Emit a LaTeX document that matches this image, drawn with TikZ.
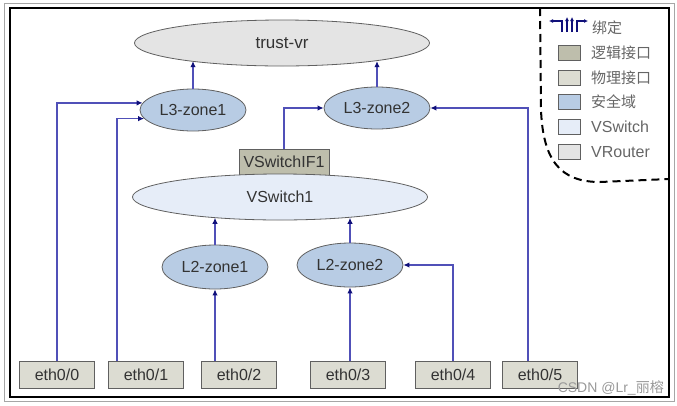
\documentclass[tikz,border=0pt]{standalone}
\usepackage{fontspec}
\setmainfont{Liberation Sans}
\newfontfamily\cjk{Noto Sans CJK SC}
\usetikzlibrary{shapes.geometric,arrows.meta}
\definecolor{linkc}{HTML}{5050B8}
\definecolor{tipc}{HTML}{10107A}
\definecolor{textc}{HTML}{333333}
\definecolor{vrc}{HTML}{E4E4E4}
\definecolor{vswc}{HTML}{E6EDF8}
\definecolor{zonec}{HTML}{B8CCE4}
\definecolor{logc}{HTML}{BEBEAC}
\definecolor{phyc}{HTML}{DCDCD2}
\definecolor{bordc}{HTML}{606060}
\definecolor{legc}{HTML}{666666}
\begin{document}
\begin{tikzpicture}[x=1pt,y=-1pt,
  every node/.style={text=textc, font=\fontsize{16}{18}\selectfont},
  bigell/.style={ellipse, draw=bordc, line width=0.8pt, minimum width=295pt, minimum height=46pt, inner sep=0pt},
  zone/.style={ellipse, draw=bordc, line width=0.8pt, fill=zonec, minimum width=106pt, minimum height=42pt, inner sep=0pt},
  ethbox/.style={rectangle, draw=bordc, line width=1pt, fill=phyc, minimum width=75pt, minimum height=27pt, inner sep=0pt},
  ifbox/.style={rectangle, draw=bordc, line width=1pt, fill=logc, minimum width=90pt, minimum height=26pt, inner sep=0pt},
  legbox/.style={rectangle, draw=bordc, line width=0.8pt, minimum width=22pt, minimum height=15pt, inner sep=0pt},
  legtext/.style={anchor=west, text=legc, inner sep=0pt},
  link/.style={draw=linkc, line width=1.2pt, -{Latex[length=6pt,width=5.5pt,color=tipc]}},
  bindarrow/.style={draw=tipc, line width=1.1pt, -{Latex[length=4pt,width=4pt]}}
]
\useasboundingbox (0,0) rectangle (677,405);
% frames
\draw[gray!70, line width=0.8pt] (4,3) rectangle (674,401);
\draw[black, line width=2pt] (10,8) rectangle (669,397);

% main nodes
\node[bigell, fill=vrc, font=\fontsize{17}{19}\selectfont] (vr) at (282,43) {trust-vr};
\node[zone] (l3a) at (193,110) {L3-zone1};
\node[zone] (l3b) at (377,108) {L3-zone2};
\node[ifbox] (vif) at (284,162) {VSwitchIF1};
\node[bigell, fill=vswc] (vsw) at (280,197) {VSwitch1};
\node[zone, minimum height=44pt] (l2a) at (215,267) {L2-zone1};
\node[zone, minimum height=44pt] (l2b) at (350,265) {L2-zone2};

% interfaces
\node[ethbox] (e0) at (57,375) {eth0/0};
\node[ethbox] (e1) at (146,375) {eth0/1};
\node[ethbox] (e2) at (239,375) {eth0/2};
\node[ethbox] (e3) at (348,375) {eth0/3};
\node[ethbox] (e4) at (453,375) {eth0/4};
\node[ethbox] (e5) at (540,375) {eth0/5};

% connectors
\draw[link] (l3a.north) -- (l3a.north |- vr.191.6);
\draw[link] (l3b.north) -- (l3b.north |- vr.349.5);
\draw[link] (l2a.north) -- (l2a.north |- vsw.197.6);
\draw[link] (l2b.north) -- (l2b.north |- vsw.343.9);
\draw[link] (e0.north) |- (l3a.172);
\draw[link] ([xshift=-29pt]e1.north) |- (l3a.190);
\draw[link] (vif.north) |- (l3b.west);
\draw[link] ([xshift=-12pt]e5.north) |- (l3b.east);
\draw[link] (e2.north -| l2a.south) -- (l2a.south);
\draw[link] (e3.north -| l2b.south) -- (l2b.south);
\draw[link] (e4.north) |- (l2b.east);

% legend boundary
\draw[black, line width=2pt, dash pattern=on 8pt off 5pt]
  (540,8) -- (541,110) .. controls (543,160) and (560,182) .. (600,182) -- (669,179);

% legend
\draw[bindarrow] (562,32) -- (562,21) -- (549,21);
\draw[bindarrow] (567,32) -- (567,17);
\draw[bindarrow] (572,32) -- (572,17);
\draw[bindarrow] (577,32) -- (577,21) -- (588,21);
\node[legtext, font=\cjk\fontsize{15}{17}\selectfont] (t0) at (592,28) {绑定};
\node[legbox, fill=logc] (b1) at (569,53) {};
\node[legtext, font=\cjk\fontsize{15}{17}\selectfont] (t1) at (591,53) {逻辑接口};
\node[legbox, fill=phyc] (b2) at (569,78) {};
\node[legtext, font=\cjk\fontsize{15}{17}\selectfont] (t2) at (591,78) {物理接口};
\node[legbox, fill=zonec] (b3) at (569,102) {};
\node[legtext, font=\cjk\fontsize{15}{17}\selectfont] (t3) at (591,102) {安全域};
\node[legbox, fill=vswc] (b4) at (569,127) {};
\node[legtext] (t4) at (591,127) {VSwitch};
\node[legbox, fill=vrc] (b5) at (569,152) {};
\node[legtext] (t5) at (591,152) {VRouter};

% watermark
\node[anchor=east, text=gray!80, font=\fontsize{14}{16}\selectfont, inner sep=0pt] (wm) at (664,388) {CSDN @Lr\_{\cjk 丽榕}};
\end{tikzpicture}
\end{document}
